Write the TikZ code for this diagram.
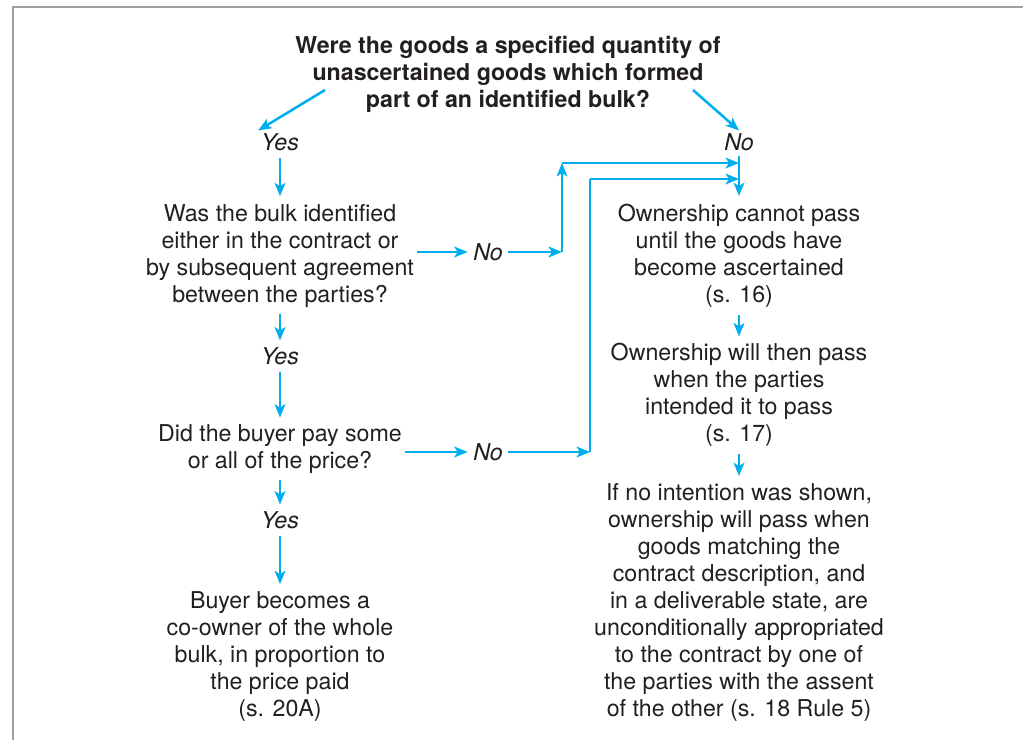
\documentclass[tikz,border=0pt]{standalone}
\usepackage{fontspec}
\setmainfont{TeX Gyre Heros}
\usetikzlibrary{arrows.meta,positioning}
\definecolor{flowblue}{HTML}{00AEEF}
\definecolor{inkgray}{HTML}{231F20}
\begin{document}
\begin{tikzpicture}[x=0.75pt, y=-0.75pt,
        txt/.style={align=center, font=\fontsize{17.4}{20.25}\selectfont, text=inkgray, inner sep=2pt},
        head/.style={txt, font=\fontsize{17.4}{20.25}\selectfont\bfseries},
        answer/.style={txt, font=\fontsize{17.4}{20.25}\selectfont\itshape},
        arr/.style={-{Stealth[length=10pt, width=8pt, inset=2.5pt]}, line width=1.9pt, flowblue},
        pipe/.style={line width=1.9pt, flowblue}
    ]
        \useasboundingbox (0,0) rectangle (1023,740);
        \draw[gray!75, line width=1.6pt] (13,740) -- (13,7) -- (1023,7);

        % === Question ===
        \node[head] (title) at (508,74) {Were the goods a specified quantity of\\unascertained goods which formed\\part of an identified bulk?};
        \coordinate (tl) at (325,90);
        \coordinate (tr) at (693,90);

        % === Left column ===
        \node[answer] (yesA) at (280,142) {Yes};
        \node[txt] (q2) at (280,256) {Was the bulk identified\\either in the contract or\\by subsequent agreement\\between the parties?};
        \node[answer] (yesB) at (280,356) {Yes};
        \node[txt] (q3) at (280,449) {Did the buyer pay some\\or all of the price?};
        \node[answer] (yesC) at (280,520) {Yes};
        \node[txt] (buyer) at (280,656) {Buyer becomes a\\co-owner of the whole\\bulk, in proportion to\\the price paid\\(s. 20A)};

        % === Right column ===
        \node[answer] (noA) at (739,142) {No};
        \node[txt] (own1) at (739,256) {Ownership cannot pass\\until the goods have\\become ascertained\\(s. 16)};
        \node[txt] (own2) at (739,395) {Ownership will then pass\\when the parties\\intended it to pass\\(s. 17)};
        \node[txt] (own3) at (739,602) {If no intention was shown,\\ownership will pass when\\goods matching the\\contract description, and\\in a deliverable state, are\\unconditionally appropriated\\to the contract by one of\\the parties with the assent\\of the other (s. 18 Rule 5)};

        % === No branches ===
        \node[answer] (noB) at (488,252) {No};
        \node[answer] (noC) at (488,452) {No};
        \coordinate (upA) at (562,252);
        \coordinate (upB) at (590,452);
        \coordinate (topA) at (562,163);
        \coordinate (topB) at (590,179);

        \draw[arr] (tl) -- (yesA.north west);
        \draw[arr] (tr) -- (noA.north);
        \draw[arr, shorten <=3pt, shorten >=4pt] (yesA.south) -- (q2.north);
        \draw[arr, shorten <=3pt, shorten >=3pt] (q2.south) -- (yesB.north);
        \draw[arr, shorten <=3pt, shorten >=3pt] (yesB.south) -- (q3.north);
        \draw[arr, shorten <=3pt, shorten >=3pt] (q3.south) -- (yesC.north);
        \draw[arr, shorten <=3pt, shorten >=3pt] (yesC.south) -- (buyer.north);

        \draw[pipe, shorten <=2pt] (noA.south) -- (topA -| noA);
        \draw[arr, shorten >=4pt] (topA -| noA) -- (own1.north);
        \draw[arr, shorten <=3pt, shorten >=3pt] (own1.south) -- (own2.north);
        \draw[arr, shorten <=3pt, shorten >=3pt] (own2.south) -- (own3.north);

        \draw[arr, shorten >=2pt] (q2.east |- noB) -- (noB.west);
        \draw[arr, shorten <=2pt] (noB.east) -- (upA);
        \draw[arr] (upA) -- (topA);
        \draw[arr] (topA) -- (topA -| noA);

        \draw[arr, shorten >=2pt] (q3.east |- noC) -- (noC.west);
        \draw[arr, shorten <=2pt] (noC.east) -- (upB);
        \draw[pipe] (upB) -- (topB);
        \draw[arr] (topB) -- (topB -| noA);
    \end{tikzpicture}
\end{document}
